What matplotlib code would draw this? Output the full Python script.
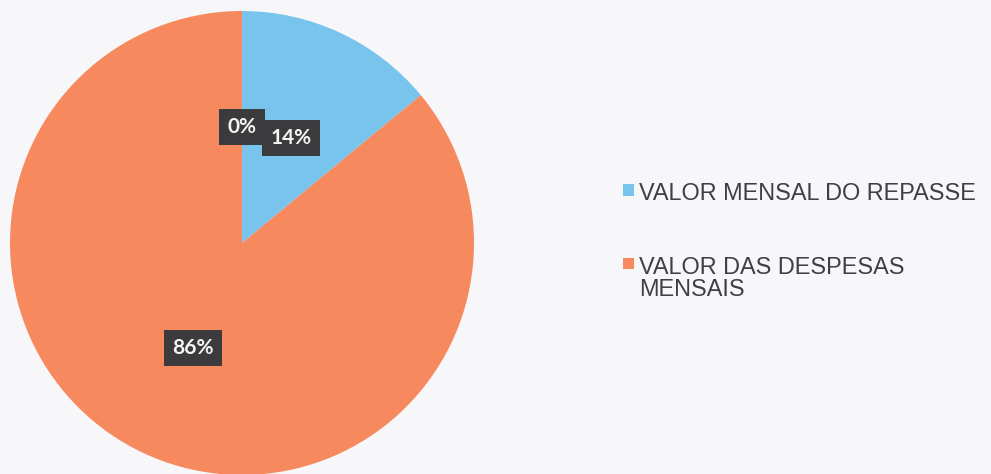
import matplotlib.pyplot as plt
from matplotlib.patches import Rectangle

# percent shares of the monthly budget (first slice is an empty category)
categories = ["", "VALOR MENSAL DO REPASSE", "VALOR DAS DESPESAS\nMENSAIS"]
shares = [0, 14, 86]
colors = ["#9aa7b8", "#78c4ec", "#f7895e"]

fig = plt.figure(figsize=(9.91, 4.74), dpi=100)
fig.patch.set_facecolor("#f7f7fa")

ax = fig.add_axes([10 / 991, -1 / 474, 464 / 991, 464 / 474])
wedges, texts, autotexts = ax.pie(
    shares, colors=colors, startangle=90, counterclock=False,
    autopct="%1.0f%%", pctdistance=0.5,
    wedgeprops=dict(linewidth=0),
    textprops=dict(color="#f4f4f4", fontsize=15, family="Lato", fontweight="bold"),
)
for i, t in enumerate(autotexts):
    t.set_bbox(dict(boxstyle="square,pad=0.4", fc="#3b3b3d", ec="none"))
    t.set_zorder(5 + i)
ax.set_xlim(-1, 1)
ax.set_ylim(-1, 1)
ax.set_aspect("equal")

# legend drawn by hand so the swatch sits on the first text line
top = 182.5
for name, col in zip(categories, colors):
    if not name:
        continue
    fig.patches.append(Rectangle((623 / 991, 1 - (top + 13) / 474), 11 / 991, 11 / 474,
                                 transform=fig.transFigure, fc=col, ec="none"))
    fig.text(639 / 991, 1 - top / 474, name, fontsize=16.9, family="Liberation Sans",
             color="#3f3f44", va="top", ha="left", linespacing=0.94)
    top += 73.5

fig.savefig("out.png", dpi=100, facecolor=fig.get_facecolor())
